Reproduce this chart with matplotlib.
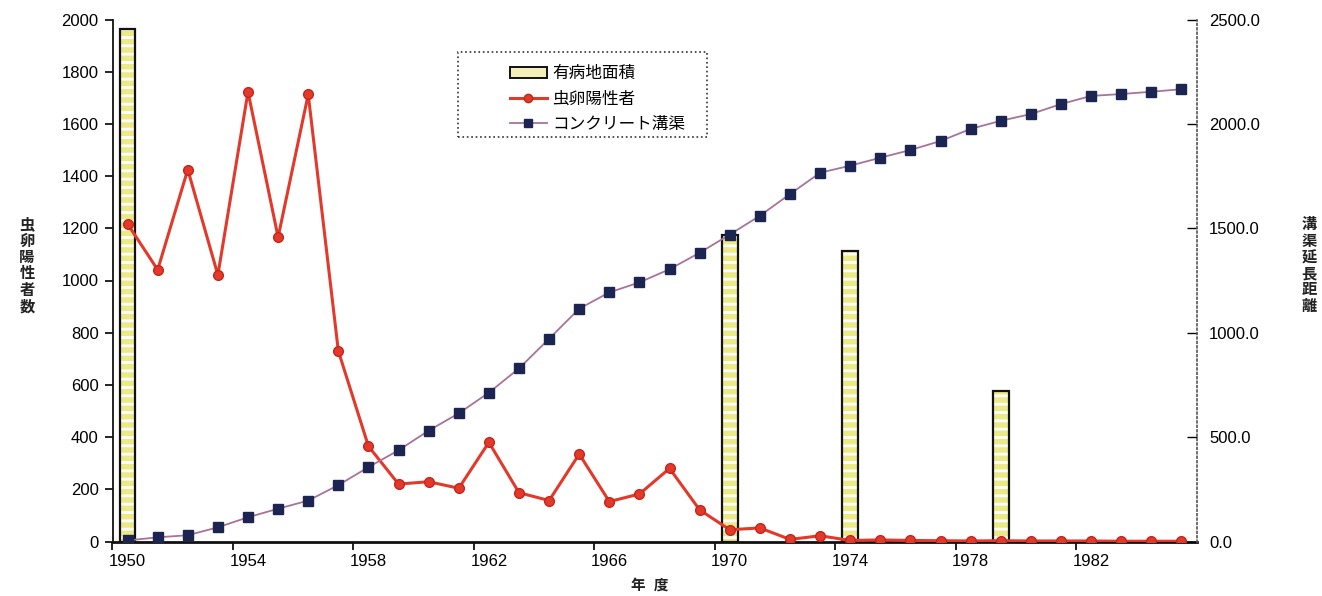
import numpy as np
import matplotlib
matplotlib.use("Agg")
import matplotlib.pyplot as plt
import matplotlib.ticker as mticker
from matplotlib.patches import Rectangle, Patch
from matplotlib.lines import Line2D

plt.rcParams["font.family"] = ["Liberation Sans", "Noto Sans CJK JP", "DejaVu Sans"]
plt.rcParams["hatch.linewidth"] = 2.0

# ── Data ──────────────────────────────────────────────────────────────────────
years = list(range(1950, 1986))

# 虫卵陽性者 (persons)
egg_positive = [1217, 1041, 1425, 1021, 1723, 1166, 1713, 730, 365, 220,
                229, 204, 380, 187, 157, 335, 153, 182, 280, 121,
                45, 52, 8, 22, 4, 6, 4, 3, 2, 3,
                2, 2, 2, 1, 1, 1]

# コンクリート溝渠 (cumulative length)
canal_length = [5, 20, 30, 68, 116, 157, 196, 270, 356, 437,
                531, 614, 713, 829, 971, 1115, 1193, 1241, 1304, 1383,
                1470, 1560, 1664, 1766, 1800, 1838, 1875, 1918, 1976, 2015,
                2047, 2095, 2134, 2143, 2154, 2166]

# 有病地面積
area_years = [1950, 1970, 1974, 1979]
area_values = [1962, 1175, 1112, 578]

tick_years = list(range(1950, 1986, 4))

# ── Styles ────────────────────────────────────────────────────────────────────
RED = "#e3392b"
RED_EDGE = "#c4261c"
NAVY = "#1c2552"
MAUVE = "#a77399"
BAR_FACE = "#ecea86"

fig = plt.figure(figsize=(13.22, 5.96), dpi=100)
ax = fig.add_axes([112.5 / 1322, 1 - 541.5 / 596, (1196.5 - 112.5) / 1322, (541.5 - 19.5) / 596])
ax2 = ax.twinx()

xi = np.arange(len(years))
bx = np.array([years.index(y) for y in area_years])

# striped bars: yellow with white horizontal dashes, black outline
ax.bar(bx, area_values, width=0.52, color=BAR_FACE, edgecolor="white",
       hatch="--", linewidth=0, zorder=2)
ax.bar(bx, area_values, width=0.52, facecolor="none", edgecolor="#111111",
       linewidth=1.6, zorder=3)

ax.plot(xi, egg_positive, color=RED, linewidth=2.2, marker="o", markersize=7,
        markerfacecolor=RED, markeredgecolor=RED_EDGE, zorder=4)

ax2.plot(xi, canal_length, color=MAUVE, linewidth=1.3, marker="s", markersize=6.5,
         markerfacecolor=NAVY, markeredgecolor=NAVY, zorder=4)

# ── Axes ──────────────────────────────────────────────────────────────────────
ax.set_xlim(-0.5, len(years) - 0.5)
ax.set_ylim(0, 2000)
ax2.set_ylim(0, 2500)

ax.set_xticks(np.arange(-0.5, len(years) - 1, 4))
ax.set_xticklabels([])
ax.set_xticks([years.index(y) for y in tick_years], minor=True)
ax.set_xticklabels([str(y) for y in tick_years], minor=True)
ax.tick_params(axis="x", which="major", direction="out", length=6, width=1.3, color="#111111")
ax.tick_params(axis="x", which="minor", length=0, pad=9, labelsize=12)

ax.set_yticks(np.arange(0, 2001, 200))
ax.tick_params(axis="y", direction="out", length=6, width=1.2, pad=4, labelsize=12)

ax2.set_yticks(np.arange(0, 2501, 500))
ax2.yaxis.set_major_formatter(mticker.FormatStrFormatter("%.1f"))
ax2.tick_params(axis="y", direction="in", length=7, width=1.0, pad=9, labelsize=12)

for a in (ax, ax2):
    a.spines["top"].set_visible(False)
ax.spines["right"].set_visible(False)
ax2.spines["left"].set_visible(False)
ax2.spines["bottom"].set_visible(False)
ax.spines["left"].set_linewidth(1.3)
ax.spines["left"].set_color("#111111")
ax.spines["bottom"].set_linewidth(2.0)
ax.spines["bottom"].set_color("#111111")
ax2.spines["right"].set_linestyle(":")
ax2.spines["right"].set_color("#555555")
ax2.spines["right"].set_linewidth(1.2)

# ── Axis titles (stacked vertically) ─────────────────────────────────────────
fig.text(27 / 1322, 1 - 266 / 596, "\n".join("虫卵陽性者数"), ha="center", va="center",
         fontsize=11, linespacing=1.2, fontweight="bold", color="#222222")
fig.text(1309 / 1322, 1 - 266 / 596, "\n".join("溝渠延長距離"), ha="center", va="center",
         fontsize=11, linespacing=1.2, fontweight="bold", color="#222222")
fig.text(650 / 1322, 1 - 586 / 596, "年  度", ha="center", va="center",
         fontsize=10.5, fontweight="bold", color="#222222")

# ── Legend ────────────────────────────────────────────────────────────────────
fig.patches.append(Rectangle((458 / 1322, 1 - 137 / 596), 249 / 1322, 85 / 596,
                             transform=fig.transFigure, fill=False,
                             edgecolor="#333333", linestyle=":", linewidth=1.2))
handles = [
    Patch(facecolor="#f2f0b8", edgecolor="#111111", linewidth=1.4, label="有病地面積"),
    Line2D([], [], color=RED, linewidth=2.2, marker="o", markersize=6,
           markerfacecolor=RED, markeredgecolor=RED_EDGE, label="虫卵陽性者"),
    Line2D([], [], color=MAUVE, linewidth=1.3, marker="s", markersize=6,
           markerfacecolor=NAVY, markeredgecolor=NAVY, label="コンクリート溝渠"),
]
fig.legend(handles=handles, loc="upper left", bbox_to_anchor=(500 / 1322, 1 - 56 / 596),
           frameon=False, fontsize=12, handlelength=2.2, handletextpad=0.35,
           labelspacing=0.62, borderpad=0.1)

fig.savefig("out.png", dpi=100, facecolor="white")
plt.close(fig)
